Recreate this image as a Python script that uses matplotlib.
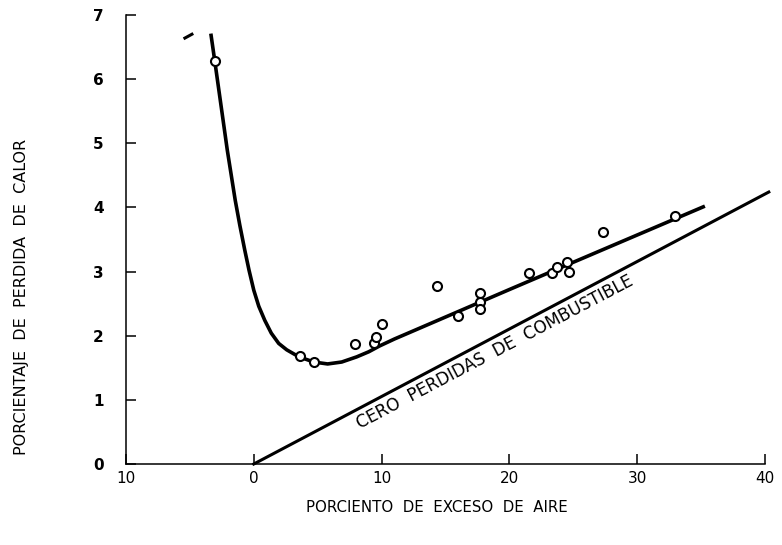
import numpy as np
import matplotlib.pyplot as plt

# puntos medidos (exceso de aire %, perdida de calor %)
exceso_aire = [-3.05, 3.6, 4.7, 7.9, 9.4, 9.6, 10.0, 14.3, 16.0, 17.7, 17.7, 17.7,
               21.5, 23.3, 23.7, 24.5, 24.7, 27.3, 33.0]
perdida = [6.28, 1.69, 1.59, 1.87, 1.89, 1.98, 2.18, 2.77, 2.31, 2.66, 2.52, 2.41,
           2.97, 2.97, 3.07, 3.15, 2.99, 3.61, 3.86]

# curva trazada a mano
curva_x = [-3.36, -3.05, -2.62, -2.07, -1.45, -1.09, -0.70, -0.37, 0.0, 0.39,
           0.86, 1.37, 1.95, 2.58, 3.28, 3.98, 4.69, 5.78, 6.88, 8.05,
           9.0, 9.84, 11.02, 12.19, 20.0, 28.0, 35.3]
curva_y = [6.71, 6.28, 5.67, 4.89, 4.11, 3.72, 3.33, 3.02, 2.71, 2.46,
           2.24, 2.04, 1.88, 1.78, 1.70, 1.64, 1.59, 1.56, 1.59, 1.67,
           1.75, 1.84, 1.95, 2.05, 2.72, 3.40, 4.02]

# linea de cero perdidas de combustible
cero_x = [0, 40.3]
cero_y = [0, 4.24]

# marca suelta del original
marca_x = [-5.39, -4.84]
marca_y = [6.64, 6.70]

x_ticks = [-10, 0, 10, 20, 30, 40]
x_labels = ['10', '0', '10', '20', '30', '40']
y_ticks = [0, 1, 2, 3, 4, 5, 6, 7]
y_labels = ['0', '1', '2', '3', '4', '5', '6', '7']

fig = plt.figure(figsize=(7.82, 5.45), dpi=100)
ax = fig.add_axes([0.1611, 0.1486, 0.8171, 0.8239])

ax.plot(curva_x, curva_y, color='black', lw=2.6, solid_joinstyle='round',
        solid_capstyle='butt', zorder=2)
ax.plot(cero_x, cero_y, color='black', lw=2.2, clip_on=False, zorder=2)
ax.plot(marca_x, marca_y, color='black', lw=2.2, clip_on=False)
ax.plot(exceso_aire, perdida, 'o', ms=6.5, mfc='white', mec='black', mew=1.5, zorder=3)

ax.text(18.9, 1.74, 'CERO  PERDIDAS  DE  COMBUSTIBLE', rotation=27.8,
        rotation_mode='anchor', ha='center', va='center', fontsize=12.2)

ax.set_xlim(-10, 40)
ax.set_ylim(0, 7)
ax.set_xticks(x_ticks)
ax.set_xticklabels(x_labels, fontsize=11)
ax.set_yticks(y_ticks)
ax.set_yticklabels(y_labels, fontsize=11, fontweight='bold')
ax.tick_params(axis='both', direction='in', length=7, width=1.1)
ax.tick_params(axis='y', pad=16)
ax.tick_params(axis='x', pad=5)

for s in ['top', 'right']:
    ax.spines[s].set_visible(False)
ax.spines['left'].set_linewidth(1.1)
ax.spines['bottom'].set_linewidth(1.1)

fig.text(22 / 782, 1 - 297 / 545, 'PORCIENTAJE  DE  PERDIDA  DE  CALOR', rotation=90,
         ha='center', va='center', fontsize=11.5)
fig.text(437 / 782, 1 - 507 / 545, 'PORCIENTO  DE  EXCESO  DE  AIRE',
         ha='center', va='center', fontsize=10.8)

fig.savefig('out.png', dpi=100)
